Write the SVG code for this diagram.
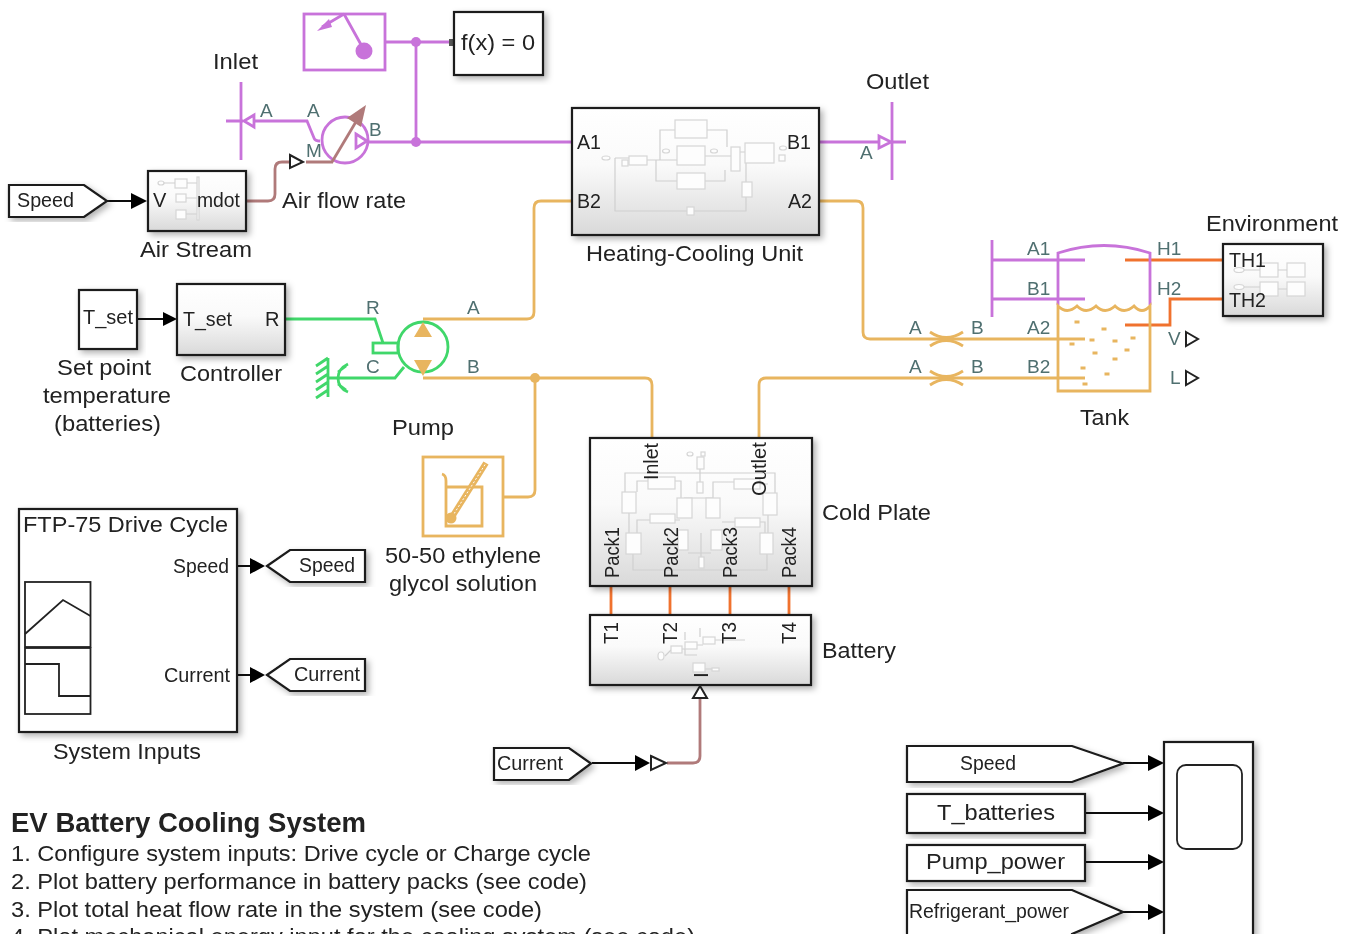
<svg xmlns="http://www.w3.org/2000/svg" width="1349" height="934" viewBox="0 0 1349 934">
<style>
text{font-family:"Liberation Sans",Arial,sans-serif;fill:#222;font-size:22px}
.s{font-size:20px}
.r{font-size:21px}
.l{font-size:19px;fill:#4f6f70}
.b{fill:url(#g);stroke:#1a1a1a;stroke-width:2.2;filter:url(#sh)}
.w{fill:#fff;stroke:#1a1a1a;stroke-width:2.2;filter:url(#sh)}
.n{fill:none;stroke:#222;stroke-width:1.8}
.ic{fill:#fdfdfd;stroke:#d6d6d6;stroke-width:1.2}
.il{fill:none;stroke:#d0d0d0;stroke-width:1.2}
.pu{fill:none;stroke:#c873da;stroke-width:2.8}
.or{fill:none;stroke:#e8b55f;stroke-width:2.8}
.gr{fill:none;stroke:#40d76a;stroke-width:2.8}
.rd{fill:none;stroke:#f0722f;stroke-width:2.8}
.br{fill:none;stroke:#b07a7a;stroke-width:2.8}
.sg{fill:none;stroke:#111;stroke-width:1.8}
.ar{fill:#000}
.ot{fill:#fff;stroke:#222;stroke-width:2}
</style>
<defs>
<linearGradient id="g" x1="0" y1="0" x2="0" y2="1"><stop offset="0" stop-color="#fff"/><stop offset="0.45" stop-color="#fafafa"/><stop offset="1" stop-color="#d9d9d9"/></linearGradient>
<filter id="sh" x="-10%" y="-10%" width="125%" height="125%"><feDropShadow dx="3" dy="3" stdDeviation="3" flood-color="#000" flood-opacity="0.3"/></filter>
<filter id="soft" x="0" y="0" width="100%" height="100%" filterUnits="userSpaceOnUse"><feGaussianBlur stdDeviation="0.7"/></filter>
</defs>
<g filter="url(#soft)">
<rect width="1349" height="934" fill="#fff"/>
<g id="connectors">
<path class="pu" d="M385 42H453M416 42V142M368 142H573"/>
<circle cx="416" cy="42" r="5" fill="#c873da"/><circle cx="416" cy="142" r="5" fill="#c873da"/>
<rect x="449" y="39" width="5" height="7" fill="#555"/>
<path class="pu" d="M254 121H307L314 138Q315 141 320 141"/>
<path class="pu" d="M819 142H880"/>
<path class="br" d="M246 201H268Q275 201 275 194V169Q275 162 282 162H289M306 162H333"/>
<path class="br" d="M667 763H693Q700 763 700 756V699"/>
<path class="sg" d="M107 201H132M137 319H163M237 566H251M237 675H251M592 763H636"/>
<path class="ar" d="M131 193L147 201L131 209ZM163 312L177 319L163 326ZM250 558L265 566L250 574ZM250 667L265 675L250 683ZM635 755L650 763L635 771Z"/>
<path class="or" d="M819 201H856Q863 201 863 208V332Q863 339 870 339H1085"/>
<path class="or" d="M573 201H541Q534 201 534 208V312Q534 319 527 319H423"/>
<path class="or" d="M423 378H645Q652 378 652 385V438M535 378V490Q535 497 528 497H503M759 438V385Q759 378 766 378H1085"/>
<circle cx="535" cy="378" r="5" fill="#e8b55f"/>
<path class="gr" d="M285 319H375L383 343M328 378H395L404 367"/>
<path class="rd" d="M611 586V616M670 586V616M730 586V616M789 586V616"/>
<path class="rd" d="M1125 260H1223M1125 325H1170V299H1223"/>
<path class="pu" d="M992 260H1085M992 299H1085"/>
<path class="sg" d="M1123 763H1149M1085 813H1149M1085 862H1149M1123 912H1149"/>
<path class="ar" d="M1148 755L1164 763L1148 771ZM1148 805L1164 813L1148 821ZM1148 854L1164 862L1148 870ZM1148 904L1164 912L1148 920Z"/>
</g>
<g id="reservoir"><rect class="pu" x="304" y="14" width="81" height="56"/><path class="pu" d="M344 14L364 50M344 14L322 27"/><path d="M317 31L329 19L332 27Z" fill="#c873da"/><circle cx="364" cy="51" r="8.5" fill="#c873da"/></g>
<g id="solver"><rect class="w" x="454" y="12" width="89" height="63"/><text x="461" y="50" textLength="74" lengthAdjust="spacingAndGlyphs">f(x) = 0</text></g>
<g id="inlet"><path class="pu" d="M241 82V160M226 121H243"/><path class="pu" d="M244 121L254 115V127Z"/><text x="213" y="69" textLength="45" lengthAdjust="spacingAndGlyphs">Inlet</text><text class="l" x="260" y="117">A</text></g>
<g id="fan"><circle class="pu" cx="345" cy="140" r="23"/><path class="pu" d="M356 134L367 141L356 148Z"/><path class="br" d="M332 162L360 115"/><path d="M366 105L347 118L361 127Z" fill="#b07a7a"/><text class="l" x="307" y="117">A</text><text class="l" x="369" y="136">B</text><text class="l" x="306" y="157">M</text></g>
<path class="ot" d="M290 155L303 162L290 168Z"/>
<g id="airflow"><text x="282" y="208" textLength="124" lengthAdjust="spacingAndGlyphs">Air flow rate</text></g>
<g id="speed-in"><path class="w" d="M9 185H84L107 201L84 217H9Z"/><text class="s" x="17" y="207" textLength="57" lengthAdjust="spacingAndGlyphs">Speed</text></g>
<g id="air-stream"><rect class="b" x="148" y="171" width="98" height="60"/><rect class="ic" x="175" y="179" width="12" height="9"/><rect class="ic" x="176" y="194" width="10" height="8"/><rect class="ic" x="176" y="210" width="10" height="9"/><ellipse class="ic" cx="161" cy="183" rx="3" ry="2"/><path class="il" d="M164 183H175M187 183H198M186 198H198M186 214H198"/><rect class="ic" x="197" y="177" width="2" height="43"/><text class="s" x="153" y="207">V</text><text class="s" x="197" y="207" textLength="43" lengthAdjust="spacingAndGlyphs">mdot</text><text x="140" y="257" textLength="112" lengthAdjust="spacingAndGlyphs">Air Stream</text></g>
<g id="heating-cooling-unit"><rect class="b" x="572" y="108" width="247" height="127"/>
<path class="il" d="M615 158V211H746V197M615 158H629M647 160H677M660 160V130H675M707 130H727V147M705 156H731M656 160V181H677M705 181H725V170M740 152H745M746 163V182M687 211H694"/>
<rect class="ic" x="675" y="120" width="32" height="18"/><rect class="ic" x="677" y="146" width="28" height="19"/><rect class="ic" x="677" y="173" width="28" height="16"/><rect class="ic" x="629" y="156" width="18" height="9"/><rect class="ic" x="622" y="160" width="6" height="6"/><rect class="ic" x="731" y="147" width="9" height="24"/><rect class="ic" x="745" y="143" width="29" height="20"/><rect class="ic" x="742" y="182" width="10" height="15"/><rect class="ic" x="687" y="207" width="7" height="8"/><ellipse class="ic" cx="606" cy="158" rx="4" ry="2"/><ellipse class="ic" cx="666" cy="151" rx="3.5" ry="2"/><ellipse class="ic" cx="714" cy="151" rx="3.5" ry="2"/><ellipse class="ic" cx="783" cy="148" rx="3.5" ry="2"/><rect class="ic" x="779" y="155" width="6" height="6"/>
<text class="s" x="577" y="149" textLength="24" lengthAdjust="spacingAndGlyphs">A1</text><text class="s" x="577" y="208" textLength="24" lengthAdjust="spacingAndGlyphs">B2</text><text class="s" x="787" y="149" textLength="24" lengthAdjust="spacingAndGlyphs">B1</text><text class="s" x="788" y="208" textLength="24" lengthAdjust="spacingAndGlyphs">A2</text><text x="586" y="261" textLength="217" lengthAdjust="spacingAndGlyphs">Heating-Cooling Unit</text></g>
<g id="outlet"><path class="pu" d="M892 102V180M892 142H906"/><path class="pu" d="M879 136L891 142L879 148Z"/><text x="866" y="89" textLength="63" lengthAdjust="spacingAndGlyphs">Outlet</text><text class="l" x="860" y="159">A</text></g>
<g id="tset"><rect class="w" x="79" y="290" width="58" height="59"/><text class="s" x="83" y="324" textLength="50" lengthAdjust="spacingAndGlyphs">T_set</text><text x="57" y="375" textLength="94" lengthAdjust="spacingAndGlyphs">Set point</text><text x="43" y="403" textLength="128" lengthAdjust="spacingAndGlyphs">temperature</text><text x="54" y="431" textLength="107" lengthAdjust="spacingAndGlyphs">(batteries)</text></g>
<g id="controller"><rect class="b" x="177" y="284" width="108" height="71"/><text class="s" x="183" y="326" textLength="49" lengthAdjust="spacingAndGlyphs">T_set</text><text class="s" x="265" y="326">R</text><text x="180" y="381" textLength="102" lengthAdjust="spacingAndGlyphs">Controller</text></g>
<g id="pump"><circle class="gr" cx="423" cy="347" r="25"/><rect class="gr" x="373" y="343" width="25" height="10"/><path d="M423 322L414 337H432ZM414 360H432L423 376Z" fill="#e8b55f"/><text class="l" x="366" y="314">R</text><text class="l" x="467" y="314">A</text><text class="l" x="366" y="373">C</text><text class="l" x="467" y="373">B</text><text x="392" y="435" textLength="62" lengthAdjust="spacingAndGlyphs">Pump</text></g>
<g id="ground"><path class="gr" d="M328 358V397M328 358L316 366M328 366L316 374M328 374L316 382M328 382L316 390M328 390L316 398"/><path class="gr" stroke-width="2.4" d="M348 364Q338 369 338 378Q338 388 348 392M338 372L346 366M338 384L346 390"/></g>
<g id="fluid"><rect class="or" x="423" y="457" width="80" height="79"/><path class="or" d="M442 474Q446 475 446 481V526H482V487H446"/><path d="M452 517L486 463" stroke="#e8b55f" stroke-width="6"/><path d="M452 517L486 463" stroke="#fff" stroke-width="1" stroke-dasharray="2 2"/><circle cx="451" cy="518" r="5.5" fill="#e8b55f"/><text x="385" y="563" textLength="156" lengthAdjust="spacingAndGlyphs">50-50 ethylene</text><text x="389" y="591" textLength="148" lengthAdjust="spacingAndGlyphs">glycol solution</text></g>
<g id="cold-plate"><rect class="b" x="590" y="438" width="222" height="148"/>
<path class="il" d="M625 492V473H775V493M633 554V570H767V554M629 513V533M768 515V533M637 492V481H648M675 481H681V498M713 498V482H734M760 484H768M637 533V520H650M675 520H680M760 522H765V533M735 522H722M688 553H711M701 533V557M700 469V482M684 498H713"/>
<rect class="ic" x="622" y="492" width="14" height="21"/><rect class="ic" x="626" y="533" width="15" height="21"/><rect class="ic" x="677" y="498" width="15" height="20"/><rect class="ic" x="706" y="498" width="14" height="20"/><rect class="ic" x="763" y="493" width="14" height="22"/><rect class="ic" x="760" y="533" width="13" height="21"/><rect class="ic" x="648" y="477" width="27" height="12"/><rect class="ic" x="734" y="479" width="26" height="10"/><rect class="ic" x="650" y="514" width="25" height="9"/><rect class="ic" x="735" y="518" width="25" height="9"/><rect class="ic" x="678" y="530" width="10" height="20"/><rect class="ic" x="711" y="530" width="11" height="20"/><rect class="ic" x="697" y="457" width="7" height="12"/><rect class="ic" x="697" y="482" width="6" height="11"/><rect class="ic" x="699" y="557" width="5" height="11"/><ellipse class="ic" cx="690" cy="454" rx="3" ry="2"/><rect class="ic" x="701" y="452" width="4" height="4"/>
<text class="r" transform="translate(658 480) rotate(-90)" textLength="37" lengthAdjust="spacingAndGlyphs">Inlet</text><text class="r" transform="translate(766 496) rotate(-90)" textLength="54" lengthAdjust="spacingAndGlyphs">Outlet</text><text class="r" transform="translate(619 578) rotate(-90)" textLength="51" lengthAdjust="spacingAndGlyphs">Pack1</text><text class="r" transform="translate(678 578) rotate(-90)" textLength="51" lengthAdjust="spacingAndGlyphs">Pack2</text><text class="r" transform="translate(737 578) rotate(-90)" textLength="51" lengthAdjust="spacingAndGlyphs">Pack3</text><text class="r" transform="translate(796 578) rotate(-90)" textLength="51" lengthAdjust="spacingAndGlyphs">Pack4</text><text x="822" y="520" textLength="109" lengthAdjust="spacingAndGlyphs">Cold Plate</text></g>
<g id="battery"><rect class="b" x="590" y="615" width="221" height="70"/>
<path class="il" d="M665 656L671 650M682 649H685M697 645H703M715 640H745M705 669H713M685 649V655H697M685 632V640M700 628V637"/><rect class="ic" x="671" y="646" width="11" height="7"/><rect class="ic" x="685" y="642" width="12" height="7"/><rect class="ic" x="703" y="637" width="12" height="7"/><rect class="ic" x="693" y="663" width="12" height="9"/><rect class="ic" x="712" y="668" width="7" height="3"/><ellipse class="ic" cx="661" cy="656" rx="3" ry="4"/>
<text class="r" transform="translate(618 644) rotate(-90)" textLength="22" lengthAdjust="spacingAndGlyphs">T1</text><text class="r" transform="translate(677 644) rotate(-90)" textLength="22" lengthAdjust="spacingAndGlyphs">T2</text><text class="r" transform="translate(736 644) rotate(-90)" textLength="22" lengthAdjust="spacingAndGlyphs">T3</text><text class="r" transform="translate(796 644) rotate(-90)" textLength="22" lengthAdjust="spacingAndGlyphs">T4</text><text class="r" transform="translate(708 678) rotate(-90)">I</text><text x="822" y="658" textLength="74" lengthAdjust="spacingAndGlyphs">Battery</text></g>
<path class="ot" d="M700 686L693 698H707Z"/><path class="ot" d="M651 756L666 763L651 770Z"/>
<g id="tank"><path class="pu" d="M1058 305V253Q1104 238 1150 253V305"/><path class="or" d="M1058 306Q1067 315 1077 306Q1086 315 1096 306Q1105 315 1115 306Q1124 315 1134 306Q1142 315 1150 306V391H1058Z"/>
<path class="pu" d="M992 240V317"/>
<path d="M1074.500 322h5M1101.500 329h5M1089.500 340h5M1112.500 341h5M1130.500 338h5M1069.500 344h5M1092.500 353h5M1124.500 350h5M1112.500 359h5M1080.500 368h5M1104.500 374h5M1082.500 384h5" stroke="#e8b55f" stroke-width="3" fill="none"/>
<text class="l" x="1027" y="255">A1</text><text class="l" x="1027" y="295">B1</text><text class="l" x="1027" y="334">A2</text><text class="l" x="1027" y="373">B2</text><text class="l" x="1157" y="255">H1</text><text class="l" x="1157" y="295">H2</text><text class="l" x="1168" y="345">V</text><text class="l" x="1170" y="384">L</text>
<path class="ot" d="M1186 332L1198 339L1186 346Z"/><path class="ot" d="M1186 371L1198 378L1186 385Z"/>
<text x="1080" y="425" textLength="49" lengthAdjust="spacingAndGlyphs">Tank</text></g>
<g id="orifice-a"><path class="or" d="M930 332Q946 343 963 332M930 346Q946 335 963 346"/><text class="l" x="909" y="334">A</text><text class="l" x="971" y="334">B</text></g>
<g id="orifice-b"><path class="or" d="M930 371Q946 382 963 371M930 385Q946 374 963 385"/><text class="l" x="909" y="373">A</text><text class="l" x="971" y="373">B</text></g>
<g id="environment"><rect class="b" x="1223" y="244" width="100" height="72"/><rect class="ic" x="1260" y="263" width="18" height="14"/><rect class="ic" x="1287" y="263" width="18" height="14"/><rect class="ic" x="1260" y="282" width="18" height="14"/><rect class="ic" x="1287" y="282" width="18" height="14"/><ellipse class="ic" cx="1239" cy="270" rx="5" ry="2.5"/><ellipse class="ic" cx="1239" cy="287" rx="5" ry="2.5"/><path class="il" d="M1244 270H1260M1244 287H1260M1278 270H1287M1278 289H1287"/><text class="s" x="1229" y="267" textLength="37" lengthAdjust="spacingAndGlyphs">TH1</text><text class="s" x="1229" y="307" textLength="37" lengthAdjust="spacingAndGlyphs">TH2</text><text x="1206" y="231" textLength="132" lengthAdjust="spacingAndGlyphs">Environment</text></g>
<g id="system-inputs"><rect class="w" x="19" y="509" width="218" height="223"/><rect x="25" y="582" width="65.500" height="65" class="n"/><rect x="25" y="648" width="65.500" height="66" class="n"/><path class="n" d="M25 634L63 600L90.500 616M25 664H59V696H90.500"/><text x="23" y="532" textLength="205" lengthAdjust="spacingAndGlyphs">FTP-75 Drive Cycle</text><text class="s" x="173" y="573" textLength="56" lengthAdjust="spacingAndGlyphs">Speed</text><text class="s" x="164" y="682" textLength="66" lengthAdjust="spacingAndGlyphs">Current</text><text x="53" y="759" textLength="148" lengthAdjust="spacingAndGlyphs">System Inputs</text></g>
<g id="speed-out"><path class="w" d="M267 566L290 550H365V582H290Z"/><text class="s" x="299" y="572" textLength="56" lengthAdjust="spacingAndGlyphs">Speed</text></g>
<g id="current-out"><path class="w" d="M267 675L290 659H365V691H290Z"/><text class="s" x="294" y="681" textLength="66" lengthAdjust="spacingAndGlyphs">Current</text></g>
<g id="current-in"><path class="w" d="M494 748H569L591 763.500L569 780H494Z"/><text class="s" x="497" y="770" textLength="66" lengthAdjust="spacingAndGlyphs">Current</text></g>
<g id="speed-from"><path class="w" d="M907 746H1072L1123 763.500L1072 782H907Z"/><text class="s" x="960" y="770" textLength="56" lengthAdjust="spacingAndGlyphs">Speed</text></g>
<g id="t-batteries"><rect class="w" x="907" y="794" width="178" height="39"/><text x="937" y="820" textLength="118" lengthAdjust="spacingAndGlyphs">T_batteries</text></g>
<g id="pump-power"><rect class="w" x="907" y="845" width="178" height="36"/><text x="926" y="869" textLength="139" lengthAdjust="spacingAndGlyphs">Pump_power</text></g>
<g id="refrigerant-power"><path class="w" d="M907 890H1072L1123 912L1072 934L1072 950H907Z"/><text class="s" x="909" y="918" textLength="160" lengthAdjust="spacingAndGlyphs">Refrigerant_power</text></g>
<g id="scope"><rect class="w" x="1164" y="742" width="89" height="210"/><rect x="1177" y="765" width="65" height="84" rx="9" class="n"/></g>
<g id="notes"><text x="11" y="832" textLength="355" lengthAdjust="spacingAndGlyphs" style="font-size:28px;font-weight:bold">EV Battery Cooling System</text><text x="11" y="861" textLength="580" lengthAdjust="spacingAndGlyphs">1. Configure system inputs: Drive cycle or Charge cycle</text><text x="11" y="889" textLength="576" lengthAdjust="spacingAndGlyphs">2. Plot battery performance in battery packs (see code)</text><text x="11" y="917" textLength="531" lengthAdjust="spacingAndGlyphs">3. Plot total heat flow rate in the system (see code)</text><text x="11" y="944" textLength="684" lengthAdjust="spacingAndGlyphs">4. Plot mechanical energy input for the cooling system (see code)</text></g>
</g>
</svg>
